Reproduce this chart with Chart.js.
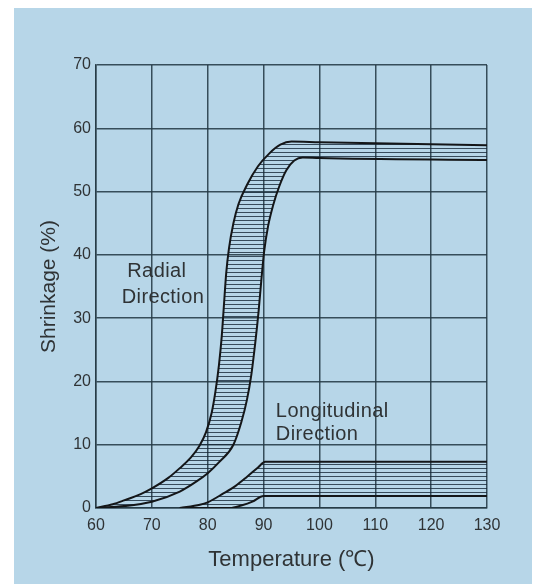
<!DOCTYPE html>
<html><head><meta charset="utf-8">
<script src="https://cdn.jsdelivr.net/npm/chart.js@4"></script>
<style>
 html,body{margin:0;padding:0;background:#fff;}
 #panel{position:absolute;left:14px;top:8px;width:518px;height:576px;background:#b7d6e8;}
 #wrap{position:absolute;left:0;top:0;width:541px;height:584px;}
</style>
</head>
<body>
<div id="panel"></div>
<div id="wrap"><canvas id="myChart" width="541" height="584"></canvas></div>
<script>
// temperature (C) / shrinkage (%)
var radialUpperX = [60, 63, 65, 68, 70, 73, 75, 77, 78.5, 79.7, 80.7, 81.4, 82, 82.5, 82.9, 83.3, 83.8, 84.6, 85.5, 87, 89, 91, 93, 95, 100, 130];
var radialUpperY = [0, 0.6, 1.2, 2.2, 3.1, 4.8, 6.3, 8, 9.8, 12, 15, 18.5, 22.5, 27, 32, 37, 41, 45, 48, 51, 54, 56, 57.4, 57.9, 57.8, 57.3];
var radialLowerX = [60, 65, 70, 75, 78, 80, 82, 84.6, 86, 87, 87.8, 88.5, 89.1, 89.6, 90.1, 90.8, 91.7, 92.8, 94.1, 95.5, 97, 100, 130];
var radialLowerY = [0, 0.3, 1.0, 2.6, 4.2, 5.5, 7.2, 10, 13.5, 17, 21, 26, 31, 36, 40.5, 44.5, 47.8, 50.8, 53.4, 54.9, 55.4, 55.3, 55.0];
var longUpperX = [75, 78.6, 80, 82.8, 85, 87, 89, 90.3, 100, 130];
var longUpperY = [0, 0.5, 0.9, 2.3, 3.5, 4.9, 6.4, 7.3, 7.3, 7.3];
var longLowerX = [75, 80, 84, 86, 88, 90, 100, 130];
var longLowerY = [0, 0, 0, 0.4, 1.0, 1.9, 1.9, 1.9];
var xTicks = [60, 70, 80, 90, 100, 110, 120, 130];
var yTicks = [0, 10, 20, 30, 40, 50, 60, 70];

function pts(xs, ys) { return xs.map(function (x, i) { return {x: x, y: ys[i]}; }); }

function hatch(period, color) {
  var c = document.createElement('canvas');
  c.width = 4; c.height = period;
  var g = c.getContext('2d');
  g.fillStyle = color;
  g.fillRect(0, 0, 4, 1);
  return g.createPattern(c, 'repeat');
}

var gridCol = 'rgba(36,58,70,0.88)';
var txtCol = '#2f3335';
var font = "'Liberation Sans', Arial, sans-serif";

var labels = {
  id: 'labels',
  afterDatasetsDraw: function (chart) {
    var c = chart.ctx, xs = chart.scales.x, ys = chart.scales.y;
    c.save();
    c.fillStyle = txtCol;
    c.font = '20px ' + font;
    c.textBaseline = 'middle';
    c.textAlign = 'left';
    c.letterSpacing = '0.4px';
    c.fillText('Radial', xs.getPixelForValue(65.6), ys.getPixelForValue(37.4));
    c.fillText('Direction', xs.getPixelForValue(64.6), ys.getPixelForValue(33.2));
    c.fillText('Longitudinal', xs.getPixelForValue(92.2), ys.getPixelForValue(15.3));
    c.fillText('Direction', xs.getPixelForValue(92.2), ys.getPixelForValue(11.6));
    c.restore();
  }
};

var line = {
  borderColor: '#141618',
  borderWidth: 2,
  pointRadius: 0,
  cubicInterpolationMode: 'monotone'
};

var ctx = document.getElementById('myChart');
var myChart = new Chart(ctx, {
  type: 'line',
  data: {
    datasets: [
      Object.assign({label: 'Radial upper', data: pts(radialUpperX, radialUpperY), fill: false}, line),
      Object.assign({label: 'Radial lower', data: pts(radialLowerX, radialLowerY), fill: 0,
        backgroundColor: hatch(4, 'rgba(22,40,55,0.8)')}, line),
      Object.assign({label: 'Longitudinal upper', data: pts(longUpperX, longUpperY), fill: false}, line),
      Object.assign({label: 'Longitudinal lower', data: pts(longLowerX, longLowerY), fill: 2,
        backgroundColor: hatch(4, 'rgba(22,40,55,0.8)')}, line)
    ]
  },
  options: {
    responsive: false,
    animation: false,
    layout: {padding: {left: 37, right: 54, top: 65, bottom: 11}},
    plugins: {legend: {display: false}, tooltip: {enabled: false}},
    scales: {
      x: {
        type: 'linear', min: 60, max: 130,
        afterBuildTicks: function (s) { s.ticks = xTicks.map(function (v) { return {value: v}; }); },
        afterFit: function (s) { s.height = 65; },
        grid: {color: gridCol, lineWidth: 1.5, drawTicks: false},
        border: {color: gridCol, width: 1.5},
        ticks: {color: txtCol, font: {size: 16, family: font}, padding: 8, maxRotation: 0},
        title: {display: true, text: 'Temperature (℃)', color: txtCol, font: {size: 22, family: font}, padding: 0}
      },
      y: {
        min: 0, max: 70,
        afterBuildTicks: function (s) { s.ticks = yTicks.map(function (v) { return {value: v}; }); },
        afterFit: function (s) { s.width = 59; },
        grid: {color: gridCol, lineWidth: 1.5, drawTicks: false},
        border: {color: gridCol, width: 1.5},
        ticks: {color: txtCol, font: {size: 16, family: font}, padding: 5},
        title: {display: true, text: 'Shrinkage (%)', color: txtCol, font: {size: 21, family: font}, padding: 0}
      }
    }
  },
  plugins: [labels]
});
</script>
</body></html>
